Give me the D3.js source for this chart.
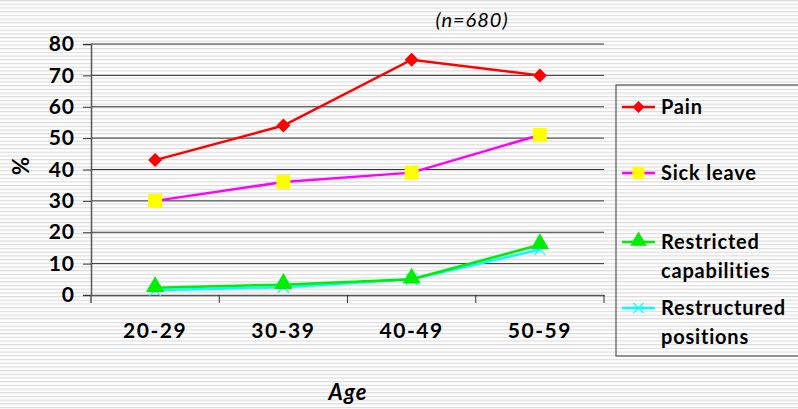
<!doctype html>
<html lang="en">
<head>
  <meta charset="utf-8">
  <title>Age chart</title>
  <script src="https://cdnjs.cloudflare.com/ajax/libs/d3/7.8.5/d3.min.js"></script>
  <style>
    body { margin: 0; overflow: hidden; }
    text { font-family: "Comic Sans MS", "Lato", "DejaVu Sans", sans-serif; fill: #000; }
  </style>
</head>
<body>
<script>
  // data
  const ages = ["20-29", "30-39", "40-49", "50-59"]
  const pain = [43, 54, 75, 70]
  const sickLeave = [30, 36, 39, 51]
  const restricted = [2.3, 3.3, 5, 16]
  const restructured = [1.5, 2.5, 5, 14.5]
  const yTicks = [0, 10, 20, 30, 40, 50, 60, 70, 80]

  const series = [
    { name: ["Pain"], values: pain, color: "#ff0000", marker: "diamond", legendY: 107 },
    { name: ["Sick leave"], values: sickLeave, color: "#ff00ff", marker: "square", fill: "#ffff00", legendY: 173 },
    { name: ["Restricted", "capabilities"], values: restricted, color: "#00ee00", marker: "triangle", legendY: 242 },
    { name: ["Restructured", "positions"], values: restructured, color: "#00ffff", marker: "x", legendY: 308 }
  ]

  const W = 798, H = 409
  const plot = { left: 91, right: 604, top: 44, bottom: 295 }

  const svg = d3.select("body").append("svg")
    .attr("width", W).attr("height", H)

  // striped background
  let pat = svg.append("defs").append("pattern")
    .attr("id", "stripes").attr("patternUnits", "userSpaceOnUse")
    .attr("width", 8).attr("height", 3.7)
  pat.append("rect").attr("width", 8).attr("height", 3.7).attr("fill", "#ffffff")
  pat.append("rect").attr("y", 0).attr("width", 8).attr("height", 1.2).attr("fill", "#dcdcdc")
  svg.append("rect").attr("width", W).attr("height", H).attr("fill", "url(#stripes)")

  let x = d3.scaleBand().domain(ages).range([plot.left, plot.right])
  let y = d3.scaleLinear().domain([0, 80]).range([plot.bottom, plot.top])

  // gridlines
  svg.append("g").selectAll("line").data(yTicks.filter(d => d > 0)).join("line")
    .attr("x1", plot.left).attr("x2", plot.right)
    .attr("y1", d => y(d)).attr("y2", d => y(d))
    .attr("stroke", "#333").attr("stroke-width", 1)

  // y axis
  let yAxis = svg.append("g").attr("transform", `translate(${plot.left},0)`)
    .call(d3.axisLeft(y).tickValues(yTicks).tickSize(8).tickPadding(6))
  yAxis.select(".domain").attr("stroke", "#555").attr("stroke-width", 1.5)
  yAxis.selectAll(".tick line").attr("stroke", "#333")
  yAxis.selectAll("text").attr("font-size", 21).attr("font-weight", "bold")
    .style("font-family", "Lato, sans-serif").attr("fill", "#000").attr("dx", -2)
    .style("letter-spacing", "1px")

  // x axis
  let xAxis = svg.append("g").attr("transform", `translate(0,${plot.bottom})`)
    .call(d3.axisBottom(x).tickSize(0).tickPadding(28))
  xAxis.select(".domain").attr("stroke", "#555").attr("stroke-width", 1.5)
  xAxis.selectAll("text").attr("font-size", 21).attr("font-weight", "bold")
    .style("font-family", "Lato, sans-serif").attr("fill", "#000")
    .style("letter-spacing", "1.5px")
  // category separator ticks
  svg.append("g").selectAll("line").data(ages).join("line")
    .attr("x1", d => x(d) + x.bandwidth()).attr("x2", d => x(d) + x.bandwidth())
    .attr("y1", plot.bottom).attr("y2", plot.bottom + 8)
    .attr("stroke", "#333")
  svg.append("line").attr("x1", plot.left).attr("x2", plot.left)
    .attr("y1", plot.bottom).attr("y2", plot.bottom + 8).attr("stroke", "#555").attr("stroke-width", 1.5)

  // axis titles
  svg.append("text").attr("x", 348).attr("y", 400).attr("text-anchor", "middle")
    .attr("font-size", 22).attr("font-style", "italic").attr("font-weight", "bold")
    .style("font-family", "Lato, sans-serif").style("letter-spacing", "1px").text("Age")
  svg.append("text").attr("transform", "translate(29,166) rotate(-90)")
    .attr("text-anchor", "middle").attr("font-size", 22).attr("font-weight", "bold")
    .style("font-family", "Lato, sans-serif").text("%")
  svg.append("text").attr("x", 472).attr("y", 27).attr("text-anchor", "middle")
    .attr("font-size", 20).attr("font-style", "italic")
    .style("font-family", "Lato, sans-serif").style("letter-spacing", "1px").text("(n=680)")

  function drawMarker(g, s, cx, cy, size) {
    if (s.marker === "diamond") {
      let r = size / 2 + 1
      g.append("path").attr("d", `M${cx},${cy - r}L${cx + r},${cy}L${cx},${cy + r}L${cx - r},${cy}Z`)
        .attr("fill", s.color)
    } else if (s.marker === "square") {
      g.append("rect").attr("x", cx - size / 2 - 1).attr("y", cy - size / 2 - 1)
        .attr("width", size + 2).attr("height", size + 2).attr("fill", s.fill)
    } else if (s.marker === "triangle") {
      g.append("path").attr("d", d3.symbol(d3.symbolTriangle, size * 12)())
        .attr("transform", `translate(${cx},${cy - 1})`).attr("fill", s.color)
    } else {
      g.append("path").attr("d", d3.symbol(d3.symbolX, size * 7)())
        .attr("transform", `translate(${cx},${cy})`).attr("stroke", s.color).attr("stroke-width", 1.2).attr("fill", "none")
    }
  }

  let line = d3.line().x((d, i) => x(ages[i]) + x.bandwidth() / 2).y(d => y(d))

  // draw in reverse so pain is on top, restructured under restricted
  let order = [3, 2, 1, 0]
  order.forEach(k => {
    let s = series[k]
    let g = svg.append("g")
    g.append("path").datum(s.values).attr("d", line)
      .attr("fill", "none").attr("stroke", s.color).attr("stroke-width", 2.5)
    s.values.forEach((v, i) => drawMarker(g, s, x(ages[i]) + x.bandwidth() / 2, y(v), 12))
  })

  // legend
  let leg = svg.append("g")
  leg.append("rect").attr("x", 616).attr("y", 85).attr("width", 190).attr("height", 271)
    .attr("fill", "none").attr("stroke", "#555").attr("stroke-width", 1.2)
  series.forEach(s => {
    let g = leg.append("g")
    g.append("line").attr("x1", 622).attr("x2", 655).attr("y1", s.legendY).attr("y2", s.legendY)
      .attr("stroke", s.color).attr("stroke-width", 2.5)
    drawMarker(g, s, 638.5, s.legendY, 10)
    s.name.forEach((t, j) => {
      g.append("text").attr("x", 661).attr("y", s.legendY + 7 + j * 29)
        .attr("font-size", 20).attr("font-weight", "bold")
        .style("font-family", "Lato, sans-serif").style("letter-spacing", "0.8px").text(t)
    })
  })
</script>
</body>
</html>
